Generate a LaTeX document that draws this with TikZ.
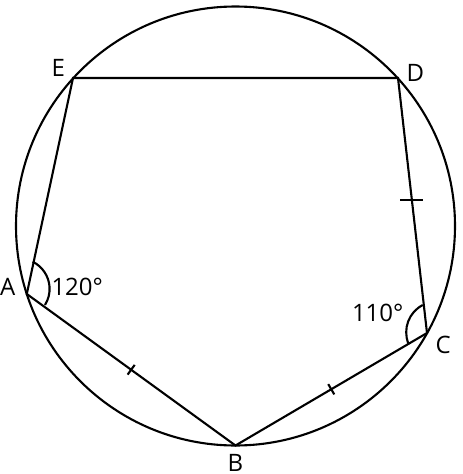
\documentclass[tikz,border=0pt]{standalone}
\usepackage{fontspec}
\setmainfont{Open Sans}
\usetikzlibrary{calc}
\begin{document}
\begin{tikzpicture}[x=1pt,y=-1pt,line width=2.1pt,
  lbl/.style={inner sep=0pt,outer sep=0pt,anchor=base west,font=\fontsize{24}{28}\selectfont},
  tickmark/.style={line width=2.1pt},
  anglemark/.style={line width=2.1pt}]
\useasboundingbox (0,0) rectangle (463,474);
\coordinate (O) at (235.5,226);
\draw (O) circle[radius=219.5];
\coordinate (A) at (26.8,294);
\coordinate (B) at (235.5,445.5);
\coordinate (C) at (427,333);
\coordinate (D) at (398,78);
\coordinate (E) at (73,78);
\draw (A) -- (B) -- (C) -- (D) -- (E) -- cycle;
% tick marks
\draw[tickmark] ($(A)!0.5!(B)!6pt!90:(B)$) -- ($(A)!0.5!(B)!6pt!-90:(B)$);
\draw[tickmark] ($(B)!0.5!(C)!6pt!90:(C)$) -- ($(B)!0.5!(C)!6pt!-90:(C)$);
\coordinate (T3) at ($(D)!0.48!(C)$);
\draw[tickmark] ([xshift=-11.5pt]T3) -- ([xshift=11.5pt]T3);
% angle marks
\coordinate (OA) at (19.3,288.9);
\draw[anglemark] (OA) ++(-63.8:30.3) arc[start angle=-63.8,end angle=32,radius=30.3];
\coordinate (OC) at (436.8,332.2);
\draw[anglemark] (OC) ++(158.7:30.6) arc[start angle=158.7,end angle=242.6,radius=30.6];
% labels
\node[lbl] (lA) at (0,295) {A};
\node[lbl] (l120) at (51.5,295) {120°};
\node[lbl] (l110) at (352,321.7) {110°};
\node[lbl] (lC) at (435.7,353.3) {C};
\node[lbl] (lB) at (227.5,471) {B};
\node[lbl] (lE) at (51.5,76.7) {E};
\node[lbl] (lD) at (406.5,81) {D};
\end{tikzpicture}
\end{document}
